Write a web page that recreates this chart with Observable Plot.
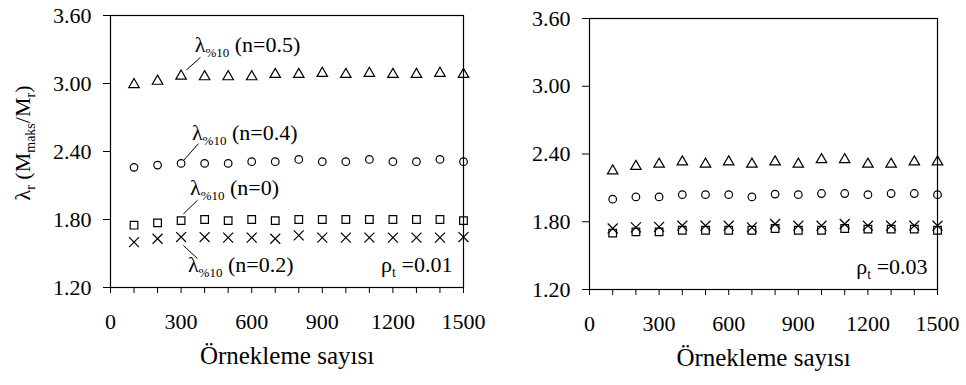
<!DOCTYPE html>
<html>
<head>
<meta charset="utf-8">
<script src="https://cdn.jsdelivr.net/npm/d3@7"></script>
<script src="https://cdn.jsdelivr.net/npm/@observablehq/plot@0.6"></script>
<style>
  html, body { margin: 0; padding: 0; background: #fff; }
  #wrap { display: flex; width: 966px; height: 385px; background: #fff; }
  #wrap svg { overflow: visible; }
</style>
</head>
<body>
<div id="wrap"></div>
<script>
// Sample counts on the x axis
const samples = [100, 200, 300, 400, 500, 600, 700, 800, 900, 1000, 1100, 1200, 1300, 1400, 1500];
const xTickValues = [0, 100, 200, 300, 400, 500, 600, 700, 800, 900, 1000, 1100, 1200, 1300, 1400, 1500];
const yTickValues = [1.2, 1.8, 2.4, 3.0, 3.6];

// rho_t = 0.01
const left_n05 = [2.99, 3.02, 3.065, 3.06, 3.06, 3.06, 3.08, 3.08, 3.09, 3.08, 3.09, 3.08, 3.08, 3.09, 3.08];
const left_n04 = [2.26, 2.28, 2.295, 2.295, 2.295, 2.31, 2.31, 2.33, 2.31, 2.31, 2.33, 2.31, 2.31, 2.33, 2.31];
const left_n0  = [1.75, 1.77, 1.79, 1.80, 1.79, 1.80, 1.79, 1.80, 1.80, 1.80, 1.80, 1.80, 1.80, 1.80, 1.79];
const left_n02 = [1.60, 1.63, 1.645, 1.645, 1.64, 1.64, 1.63, 1.66, 1.64, 1.64, 1.64, 1.64, 1.64, 1.64, 1.645];

// rho_t = 0.03
const right_n05 = [2.25, 2.29, 2.31, 2.33, 2.31, 2.33, 2.31, 2.33, 2.31, 2.35, 2.35, 2.31, 2.31, 2.33, 2.33];
const right_n04 = [2.00, 2.02, 2.02, 2.04, 2.04, 2.04, 2.02, 2.045, 2.04, 2.05, 2.05, 2.04, 2.05, 2.05, 2.04];
const right_n02 = [1.74, 1.75, 1.755, 1.765, 1.765, 1.765, 1.75, 1.78, 1.765, 1.765, 1.78, 1.765, 1.765, 1.765, 1.765];
const right_n0  = [1.70, 1.71, 1.71, 1.725, 1.725, 1.725, 1.725, 1.74, 1.725, 1.725, 1.74, 1.735, 1.735, 1.735, 1.725];

// Series labels and their leader lines (left panel only)
const seriesNames = ["n=0.5", "n=0.4", "n=0", "n=0.2"];
const labelX = [360, 348, 340, 331];
const labelY = [3.27, 2.50, 2.01, 1.33];
const leaderX1 = [323, 310, 310, 310];
const leaderY1 = [3.12, 2.32, 1.85, 1.57];
const leaderX2 = [382, 374, 370, 370];
const leaderY2 = [3.23, 2.47, 1.97, 1.455];

const rhoLabels = ["0.01", "0.03"];
const rhoX = 1152;
const rhoY = 1.33;

const xTitle = "Örnekleme sayısı";

// Pick the first installed serif face by comparing rendered widths
function pickFont(candidates) {
  const ctx = document.createElement("canvas").getContext("2d");
  const sample = "Örnekleme sayısı 0123456789 λρ";
  const widthOf = f => { ctx.font = "40px " + f; return ctx.measureText(sample).width; };
  const bases = ["monospace", "sans-serif"].map(widthOf);
  for (const c of candidates) {
    const q = `"${c}"`;
    const w1 = (ctx.font = `40px ${q}, monospace`, ctx.measureText(sample).width);
    const w2 = (ctx.font = `40px ${q}, sans-serif`, ctx.measureText(sample).width);
    if (w1 !== bases[0] || w2 !== bases[1]) return `"${c}", serif`;
  }
  return "serif";
}
const FONT = pickFont(["Liberation Serif", "Times New Roman", "Tinos", "Nimbus Roman", "Noto Serif", "DejaVu Serif", "FreeSerif"]);

function rows(values) {
  return samples.map((s, i) => ({x: s, y: values[i]}));
}

function px(scale, v) {
  if (scale.apply) return scale.apply(v);
  const [d0, d1] = scale.domain, [r0, r1] = scale.range;
  return r0 + (v - d0) / (d1 - d0) * (r1 - r0);
}

// Text with subscript parts: parts = [[text, isSub], ...]
function richText(sel, x, y, parts, size, subSize, anchor) {
  const t = sel.append("text")
    .attr("x", x).attr("y", y)
    .style("font-family", FONT)
    .attr("font-size", size)
    .attr("fill", "black")
    .attr("text-anchor", anchor || "start");
  let shifted = false;
  for (const [s, sub] of parts) {
    const ts = t.append("tspan").text(s);
    if (sub && !shifted) { ts.attr("font-size", subSize).attr("dy", size * 0.22); shifted = true; }
    else if (!sub && shifted) { ts.attr("dy", -size * 0.22); shifted = false; }
  }
  return t;
}

function panel(opts) {
  const marks = [
    Plot.frame({stroke: "black", strokeWidth: 1.2}),
    Plot.axisY({ticks: yTickValues, tickFormat: d3.format(".2f"), tickSize: 7, tickPadding: 12, label: null, fontSize: 22}),
    Plot.axisX({ticks: xTickValues, tickFormat: d => d % 300 === 0 ? String(d) : "", tickSize: 6, tickPadding: 20, label: null, fontSize: 22}),
    Plot.text([xTitle], {frameAnchor: "bottom", dy: 76, fontSize: 25, fill: "black"}),
    Plot.dot(rows(opts.n05), {x: "x", y: "y", symbol: "triangle", r: 3.9, stroke: "black", fill: "none", strokeWidth: 1.2}),
    Plot.dot(rows(opts.n04), {x: "x", y: "y", symbol: "circle", r: 3.8, stroke: "black", fill: "none", strokeWidth: 1.2}),
    Plot.dot(rows(opts.n0), {x: "x", y: "y", symbol: "square", r: 4.3, stroke: "black", fill: "none", strokeWidth: 1.2}),
    Plot.dot(rows(opts.n02), {x: "x", y: "y", symbol: "times", r: 4.6, stroke: "black", fill: "none", strokeWidth: 1.2})
  ];
  if (opts.labels) {
    const leaders = seriesNames.map((n, i) => ({x1: leaderX1[i], y1: leaderY1[i], x2: leaderX2[i], y2: leaderY2[i]}));
    marks.push(Plot.link(leaders, {x1: "x1", y1: "y1", x2: "x2", y2: "y2", stroke: "black", strokeWidth: 1}));
  }
  const chart = Plot.plot({
    width: opts.width,
    height: 385,
    marginLeft: opts.marginLeft,
    marginRight: opts.marginRight,
    marginTop: opts.marginTop,
    marginBottom: opts.marginBottom,
    style: {fontFamily: FONT, fontSize: "21px", color: "black", background: "transparent", overflow: "visible"},
    x: {domain: [0, 1500]},
    y: {domain: [1.2, 3.6]},
    marks
  });

  const svg = d3.select(chart.tagName.toLowerCase() === "svg" ? chart : chart.querySelector("svg"));
  svg.selectAll("text").style("font-family", FONT);
  const sx = chart.scale("x"), sy = chart.scale("y");
  if (opts.labels) {
    seriesNames.forEach((n, i) => {
      richText(svg, px(sx, labelX[i]), px(sy, labelY[i]), [["λ", false], ["%10", true], [" (" + n + ")", false]], 22, 13);
    });
  }
  richText(svg, px(sx, rhoX), px(sy, rhoY), [["ρ", false], ["t", true], [" =" + opts.rho, false]], 22, 14);
  if (opts.yTitle) {
    const g = svg.append("g").attr("transform", `translate(30,${opts.yTitleY}) rotate(-90)`);
    richText(g, 0, 0, [["λ", false], ["r", true], [" (M", false], ["maks", true], ["/M", false], ["r", true], [")", false]], 22, 14, "middle");
  }
  return chart;
}

const wrap = document.getElementById("wrap");
wrap.appendChild(panel({
  width: 482, marginLeft: 110, marginRight: 19, marginTop: 15, marginBottom: 98,
  n05: left_n05, n04: left_n04, n0: left_n0, n02: left_n02,
  labels: true, rho: rhoLabels[0], yTitle: true, yTitleY: 143
}));
wrap.appendChild(panel({
  width: 484, marginLeft: 107, marginRight: 29, marginTop: 18, marginBottom: 96,
  n05: right_n05, n04: right_n04, n0: right_n0, n02: right_n02,
  labels: false, rho: rhoLabels[1], yTitle: false
}));
</script>
</body>
</html>
